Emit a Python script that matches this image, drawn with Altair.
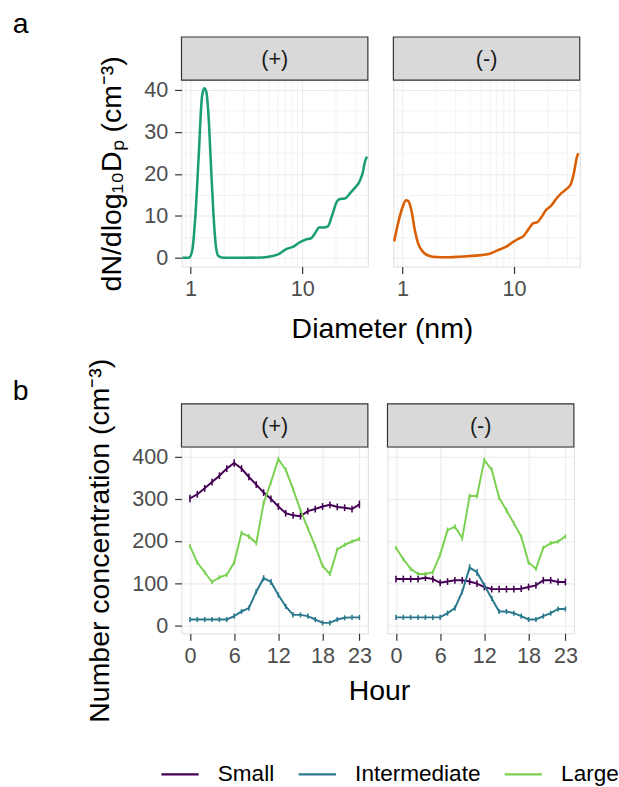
import altair as alt
import pandas as pd

FONT = "Liberation Sans"

# ---------------- panel a: size distributions ----------------
dp_plus = [0.844, 0.967, 1.034, 1.107, 1.184, 1.267, 1.329, 1.384, 1.451, 1.521, 1.607,
           1.695, 1.778, 1.968, 2.95, 4.43, 5.43, 6.22, 7.13, 8.44, 9.67, 10.7, 12.1,
           13.1, 14.2, 15.5, 17.0, 18.6, 20.4, 21.8, 24.1, 26.7, 29.5, 32.7, 35.0, 36.7, 38.2]
dn_plus = [0.0, 0.0, 1.6, 10.2, 24.3, 38.4, 40.4, 39.6, 33.7, 22.7, 10.2,
           2.4, 0.4, 0.0, 0.0, 0.05, 0.4, 0.9, 2.0, 2.7, 3.8, 4.3, 4.7,
           5.9, 7.2, 7.2, 7.5, 10.2, 13.3, 14.0, 14.1, 15.3, 16.6, 18.2, 20.4, 23.1, 24.1]

dp_minus = [0.844, 0.922, 1.007, 1.077, 1.13, 1.21, 1.29, 1.38, 1.53, 1.75, 2.01, 2.63,
            3.45, 4.53, 5.94, 7.03, 8.33, 9.86, 10.9, 12.1, 13.4, 14.8, 16.2, 17.5,
            19.4, 21.5, 23.8, 26.3, 29.2, 32.3, 34.5, 36.5, 37.7]
dn_minus = [3.9, 8.6, 12.2, 13.7, 13.5, 11.0, 6.7, 3.5, 1.4, 0.4, 0.16, 0.1,
            0.3, 0.5, 0.9, 1.7, 2.5, 3.8, 4.5, 5.1, 6.7, 8.2, 8.5, 9.6,
            11.4, 12.4, 14.0, 15.3, 16.3, 17.6, 20.4, 23.9, 24.9]

# ---------------- panel b: diurnal cycles ----------------
hours = list(range(24))
classes = ["Small", "Intermediate", "Large"]

small_plus = [301, 311, 325, 340, 355, 372, 385, 372, 352, 334, 315, 300,
              282, 266, 261, 259, 271, 276, 282, 286, 281, 279, 276, 287]
inter_plus = [14, 14, 14, 14, 14, 14, 22, 33, 41, 80, 112, 103,
              72, 45, 25, 25, 22, 14, 6, 6, 14, 18, 19, 19]
large_plus = [188, 149, 126, 103, 114, 120, 149, 219, 211, 195, 290, 340,
              394, 369, 323, 273, 230, 188, 141, 122, 180, 191, 199, 205]

small_minus = [110, 110, 110, 110, 113, 110, 101, 104, 107, 107, 104, 99,
               91, 86, 86, 86, 86, 87, 91, 95, 107, 107, 103, 103]
inter_minus = [19, 19, 19, 19, 19, 19, 19, 29, 41, 80, 137, 126,
               95, 64, 33, 33, 29, 22, 14, 14, 22, 29, 39, 39]
large_minus = [184, 157, 134, 122, 122, 126, 168, 226, 234, 207, 307, 307,
               392, 369, 303, 273, 242, 211, 149, 134, 184, 195, 199, 211]

err_small_plus = [9, 8, 8, 8, 8, 8, 9, 8, 8, 8, 8, 8, 8, 8, 8, 8, 8, 8, 8, 8, 8, 8, 8, 9]
err_inter_plus = [6, 6, 6, 6, 6, 6, 6, 6, 6, 6, 7, 7, 6, 6, 6, 6, 6, 6, 6, 6, 6, 6, 6, 6]
err_large_plus = [5, 5, 5, 5, 5, 5, 5, 6, 6, 6, 6, 6, 6, 6, 6, 6, 5, 5, 5, 5, 5, 5, 5, 5]
err_small_minus = [8, 8, 8, 8, 8, 8, 8, 8, 8, 8, 8, 8, 8, 8, 8, 8, 8, 8, 8, 8, 8, 8, 8, 8]
err_inter_minus = [6, 6, 6, 6, 6, 6, 6, 6, 6, 6, 8, 8, 6, 6, 6, 6, 6, 6, 6, 6, 6, 6, 6, 6]
err_large_minus = [5, 5, 5, 5, 5, 5, 5, 6, 6, 6, 6, 6, 6, 6, 6, 6, 5, 5, 5, 5, 5, 5, 5, 5]

viridis3 = ["#440154", "#2A788E", "#7AD151"]

# ---------------- style ----------------
W, H = 190, 190
STRIP_H = 44
GRID = "#EBEBEB"
BORDER = "#333333"
LABEL_COL = "#4D4D4D"
TICK_FS = 22
TITLE_FS = 29


def strip_layers(label):
    d = alt.Chart(pd.DataFrame({"label": [label]}))
    rect = d.mark_rect(fill="#D9D9D9", stroke=BORDER, strokeWidth=1.2).encode(
        x=alt.value(0), x2=alt.value(W), y=alt.value(-STRIP_H), y2=alt.value(0))
    txt = d.mark_text(font=FONT, fontSize=TICK_FS, color="#1A1A1A").encode(
        x=alt.value(W / 2), y=alt.value(-STRIP_H / 2 + 1), text="label:N")
    return [rect, txt]


def tag_layer(tag):
    d = alt.Chart(pd.DataFrame({"tag": [tag]}))
    return d.mark_text(font=FONT, fontSize=29, color="black", align="left",
                       baseline="alphabetic").encode(
        x=alt.value(-172), y=alt.value(-48), text="tag:N")


def make_axis(values, major_test, labels_text, show_labels, pad, title=None):
    kw = dict(
        values=values, grid=True, gridColor=GRID,
        gridWidth={"condition": {"test": major_test, "value": 1.1}, "value": 0.6},
        domain=False, labelOverlap=False,
        labelFont=FONT, labelFontSize=TICK_FS, labelColor=LABEL_COL,
        titleFont=FONT, titleFontSize=TITLE_FS, titleColor="black",
        titleFontWeight="normal",
    )
    if show_labels:
        kw.update(
            ticks=True, tickColor=BORDER, tickWidth=1.2, tickSize=7,
            tickOpacity={"condition": {"test": major_test, "value": 1}, "value": 0},
            labels=True, labelExpr=labels_text, labelPadding=pad,
        )
    else:
        kw.update(ticks=False, labels=False, tickSize=0, labelPadding=0,
                  minExtent=0, maxExtent=0)
    if title is None:
        kw["title"] = None
    else:
        kw["title"] = title
        kw["titlePadding"] = 18
    return alt.Axis(**kw)


# panel a axes
xa_vals = [0.9, 1, 2, 3, 4, 5, 6, 7, 8, 9, 10, 20, 30]
xa_major = "datum.value == 1 || datum.value == 10"
xa_lab = "datum.value == 1 ? '1' : (datum.value == 10 ? '10' : '')"
ya_vals = [0, 5, 10, 15, 20, 25, 30, 35, 40]
ya_major = "datum.value % 10 == 0"
ya_lab = "datum.value % 10 == 0 ? datum.label : ''"
xa_scale = alt.Scale(type="log", domain=[0.83, 38.8], nice=False)
ya_scale = alt.Scale(domain=[-2.1, 42.35], nice=False, zero=False)


def panel_a(dp, dn, color, label, left):
    df = pd.DataFrame({"dp": dp, "dn": dn})
    line = alt.Chart(df).mark_line(color=color, strokeWidth=2.6, interpolate="monotone").encode(
        x=alt.X("dp:Q", scale=xa_scale, axis=make_axis(xa_vals, xa_major, xa_lab, True, 6)),
        y=alt.Y("dn:Q", scale=ya_scale,
                axis=make_axis(ya_vals, ya_major, ya_lab, left, 7,
                               "dN/dlog₁₀Dₚ (cm⁻³)" if left else None)),
    )
    layers = [line] + strip_layers(label)
    if left:
        layers.append(tag_layer("a"))
    return alt.layer(*layers).properties(width=W, height=H)


# panel b axes
xb_vals = [0, 3, 6, 9, 12, 15, 18, 20.5, 23]
xb_major = "indexof([0, 6, 12, 18, 23], datum.value) >= 0"
xb_lab = "indexof([0, 6, 12, 18, 23], datum.value) >= 0 ? datum.label : ''"
yb_vals = [0, 50, 100, 150, 200, 250, 300, 350, 400]
yb_major = "datum.value % 100 == 0"
yb_lab = "datum.value % 100 == 0 ? datum.label : ''"
xb_scale = alt.Scale(domain=[-1.15, 24.15], nice=False, zero=False)
yb_scale = alt.Scale(domain=[-19, 423], nice=False, zero=False)
color_scale = alt.Scale(domain=classes, range=viridis3)
legend = alt.Legend(title=None, orient="none", legendX=-22, legendY=687,
                    direction="horizontal", symbolType="stroke", symbolSize=1444,
                    symbolStrokeWidth=2.2, labelFont=FONT, labelFontSize=23,
                    labelColor="black", columnPadding=20, labelOffset=18, padding=0)


def panel_b(series, errs, label, left):
    rows = []
    for cls, vals, es in zip(classes, series, errs):
        for h, v, e in zip(hours, vals, es):
            rows.append({"hour": h, "value": v, "lo": v - e, "hi": v + e, "size": cls})
    df = pd.DataFrame(rows)
    base = alt.Chart(df)
    col = alt.Color("size:N", scale=color_scale, legend=legend)
    line = base.mark_line(strokeWidth=2.0).encode(
        x=alt.X("hour:Q", scale=xb_scale, axis=make_axis(xb_vals, xb_major, xb_lab, True, 6)),
        y=alt.Y("value:Q", scale=yb_scale,
                axis=make_axis(yb_vals, yb_major, yb_lab, left, 7,
                               "Number concentration (cm⁻³)" if left else None)),
        color=col,
    )
    err = base.mark_rule(strokeWidth=1.6).encode(
        x="hour:Q", y="lo:Q", y2="hi:Q", color=col)
    layers = [line, err] + strip_layers(label)
    if left:
        layers.append(tag_layer("b"))
    return alt.layer(*layers).properties(width=W, height=H)


title_common = dict(orient="bottom", anchor="middle", font=FONT, fontSize=TITLE_FS,
                    fontWeight="normal", color="black", dx=86)

row_a = alt.hconcat(
    panel_a(dp_plus, dn_plus, "#1B9E77", "(+)", True),
    panel_a(dp_minus, dn_minus, "#D95F02", "(-)", False),
    spacing=16,
).properties(title=alt.TitleParams("Diameter (nm)", offset=15, **title_common))

row_b = alt.hconcat(
    panel_b([small_plus, inter_plus, large_plus],
            [err_small_plus, err_inter_plus, err_large_plus], "(+)", True),
    panel_b([small_minus, inter_minus, large_minus],
            [err_small_minus, err_inter_minus, err_large_minus], "(-)", False),
    spacing=13,
).properties(title=alt.TitleParams("Hour", offset=-46, **title_common))

chart = alt.vconcat(row_a, row_b, spacing=14).properties(
    padding={"left": 12, "top": 2, "right": 0, "bottom": 0}
).configure_view(stroke=BORDER, strokeWidth=1.2).configure(background="white")

chart.save("out.html", embed_options={"renderer": "svg", "actions": False})
